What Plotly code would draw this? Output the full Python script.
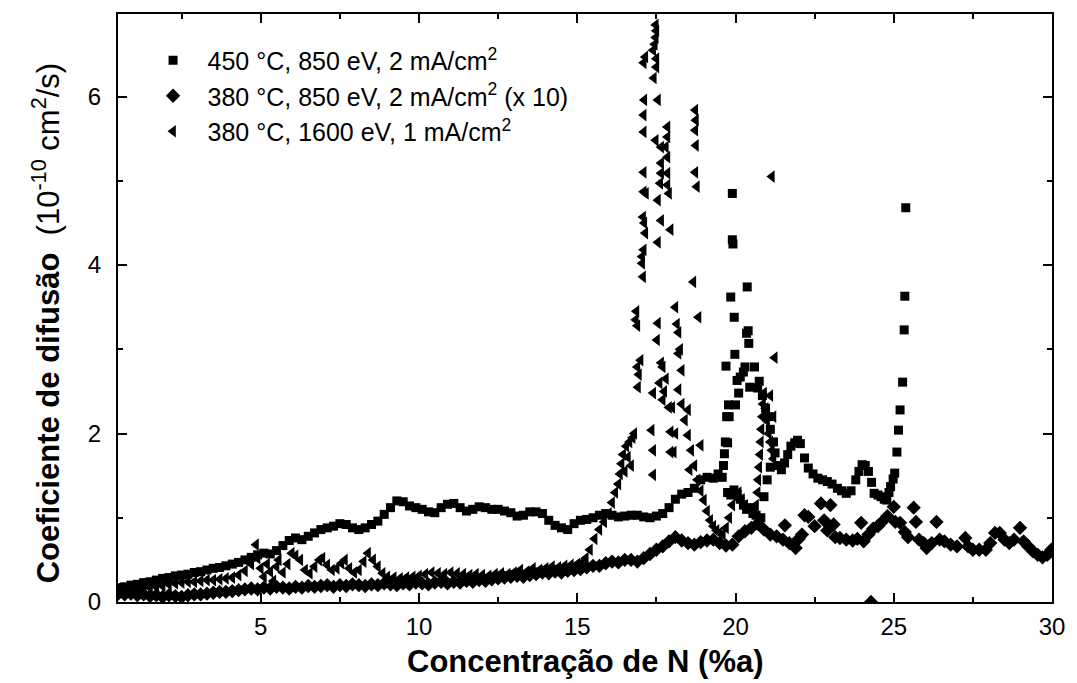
import plotly.graph_objects as go

# ---------------- data ----------------
# 450 °C, 850 eV, 2 mA/cm2  (squares)
sq_x = [0.5, 0.7, 0.9, 1.1, 1.3, 1.5, 1.7, 1.9, 2.1, 2.3, 2.5, 2.7, 2.9, 3.1, 3.3, 3.5, 3.7, 3.9,
        4.1, 4.3, 4.5, 4.7, 4.9, 5.1, 5.3, 5.5, 5.7, 5.9, 6.1, 6.3, 6.5, 6.7, 6.9, 7.1, 7.3, 7.5,
        7.7, 7.9, 8.1, 8.3, 8.5, 8.7, 8.9, 9.1, 9.3, 9.5, 9.7, 9.9, 10.1, 10.3, 10.5, 10.7, 10.9,
        11.1, 11.3, 11.5, 11.7, 11.9, 12.1, 12.3, 12.5, 12.7, 12.9, 13.1, 13.3, 13.5, 13.7, 13.9,
        14.1, 14.3, 14.5, 14.7, 14.9, 15.1, 15.3, 15.5, 15.7, 15.9, 16.1, 16.3, 16.5, 16.7, 16.9,
        17.1, 17.3, 17.5, 17.7, 17.9, 18.1, 18.3, 18.5, 18.7, 18.9, 19.1, 19.3,
        19.45, 19.58, 19.62, 19.65, 19.68, 19.72, 19.70, 19.78, 19.80, 19.75, 19.85, 19.90, 19.90,
        19.92, 19.96, 19.98, 20.05, 20.15, 20.25, 20.37, 20.35, 20.40, 20.42, 20.10, 20.00, 20.30,
        20.45, 20.60, 20.70, 20.75, 20.85, 20.95, 21.05, 21.10, 21.20, 21.25, 21.35, 21.45, 21.55,
        21.65, 21.75, 21.87, 21.96, 22.05, 22.18, 22.30, 22.45, 22.60, 22.75, 22.90, 23.05, 23.22,
        23.35, 23.50, 23.65, 23.80, 23.90, 24.00, 24.10, 24.20, 24.30, 24.38, 24.50, 24.60, 24.70,
        24.78, 24.85, 24.90, 24.98, 25.03, 25.10, 25.15, 25.20, 25.28, 25.33, 25.35, 25.38,
        19.75, 19.85, 19.95, 20.05, 20.15, 20.25, 20.35, 20.45, 20.55, 20.65, 20.80, 20.90, 21.00,
        21.10]
sq_y = [0.17, 0.18, 0.20, 0.21, 0.23, 0.24, 0.26, 0.28, 0.29, 0.31, 0.32, 0.33, 0.35, 0.36, 0.38, 0.40, 0.41, 0.43,
        0.45, 0.47, 0.50, 0.53, 0.56, 0.58, 0.57, 0.61, 0.67, 0.73, 0.76, 0.74, 0.78, 0.82, 0.86, 0.88, 0.90, 0.93,
        0.92, 0.88, 0.86, 0.88, 0.92, 0.96, 1.04, 1.12, 1.20, 1.19, 1.14, 1.12, 1.10, 1.07, 1.06, 1.12, 1.16,
        1.17, 1.12, 1.08, 1.10, 1.13, 1.12, 1.10, 1.10, 1.08, 1.06, 1.02, 1.03, 1.07, 1.07, 1.05,
        0.97, 0.91, 0.88, 0.86, 0.93, 0.97, 0.98, 1.00, 1.03, 1.05, 1.03, 1.01, 1.02, 1.03, 1.03,
        1.01, 1.00, 1.02, 1.05, 1.12, 1.22, 1.28, 1.30, 1.35, 1.45, 1.48, 1.47,
        1.52, 1.48, 1.62, 1.76, 1.90, 2.20, 2.80, 2.34, 2.20, 1.89, 3.62, 4.85, 4.30,
        4.25, 3.38, 2.94, 2.63, 2.67, 2.73, 3.74, 3.19, 3.22, 3.07, 2.48, 2.34, 2.79,
        2.55, 2.79, 2.54, 2.62, 2.45, 2.30, 2.20, 2.05, 1.90, 1.77, 1.62, 1.57, 1.65,
        1.75, 1.85, 1.89, 1.92, 1.88, 1.71, 1.59, 1.52, 1.47, 1.45, 1.43, 1.40, 1.35,
        1.32, 1.29, 1.32, 1.45, 1.55, 1.63, 1.62, 1.55, 1.42, 1.29, 1.27, 1.25, 1.22,
        1.21, 1.30, 1.37, 1.46, 1.53, 1.78, 2.04, 2.28, 2.61, 3.23, 3.63, 4.68,
        1.30, 1.27, 1.33, 1.28, 1.22, 1.15, 1.10, 1.12, 1.05, 1.03, 1.00, 1.25, 1.45,
        1.60]

# 380 °C, 850 eV, 2 mA/cm2 (x 10)  (diamonds)
di_x = [0.5, 0.7, 0.9, 1.1, 1.3, 1.5, 1.7, 1.9, 2.1, 2.3, 2.5, 2.7, 2.9, 3.1, 3.3, 3.5, 3.7, 3.9,
        4.1, 4.3, 4.5, 4.7, 4.9, 5.1, 5.3, 5.5, 5.7, 5.9, 6.1, 6.3, 6.5, 6.7, 6.9, 7.1, 7.3, 7.5,
        7.7, 7.9, 8.1, 8.3, 8.5, 8.7, 8.9, 9.1, 9.3, 9.5, 9.7, 9.9, 10.1, 10.3, 10.5, 10.7, 10.9,
        11.1, 11.3, 11.5, 11.7, 11.9, 12.1, 12.3, 12.5, 12.7, 12.9, 13.1, 13.3, 13.5, 13.7, 13.9,
        14.1, 14.3, 14.5, 14.7, 14.9, 15.1, 15.3, 15.5, 15.7, 15.9, 16.1, 16.3, 16.5, 16.7, 16.9,
        17.1, 17.3, 17.5, 17.7, 17.9, 18.1, 18.3, 18.5, 18.7, 18.9, 19.1, 19.3, 19.5, 19.7, 19.9,
        20.1, 20.3, 20.5, 20.7, 20.9, 21.1, 21.3, 21.5, 21.56, 21.7, 21.9, 22.0, 22.18, 22.3, 22.1,
        22.5, 22.7, 22.8, 22.9, 23.0, 23.1, 23.15, 23.3, 23.5, 23.7, 23.85, 23.97, 24.05, 24.2,
        24.35, 24.5, 24.6, 24.8, 25.0, 25.05, 25.2, 25.35, 25.45, 25.63, 25.7, 25.8, 25.95, 26.04,
        26.2, 26.35, 26.45, 26.6, 26.8, 27.0, 27.26, 27.35, 27.5, 27.7, 27.91, 28.05, 28.2, 28.35,
        28.5, 28.65, 28.8, 28.99, 29.1, 29.25, 29.4, 29.55, 29.7, 29.85, 29.98, 24.28]
di_y = [0.10, 0.09, 0.10, 0.08, 0.09, 0.07, 0.08, 0.06, 0.08, 0.07, 0.06, 0.08, 0.09, 0.09, 0.10, 0.11, 0.12, 0.12,
        0.13, 0.14, 0.15, 0.16, 0.15, 0.17, 0.16, 0.18, 0.17, 0.16, 0.18, 0.17, 0.19, 0.18, 0.19, 0.20, 0.18, 0.20,
        0.19, 0.21, 0.20, 0.19, 0.21, 0.20, 0.22, 0.21, 0.20, 0.22, 0.21, 0.23, 0.22, 0.21, 0.23, 0.24, 0.22,
        0.24, 0.23, 0.25, 0.24, 0.26, 0.25, 0.27, 0.28, 0.29, 0.30, 0.31, 0.30, 0.32, 0.33, 0.35,
        0.34, 0.36, 0.35, 0.37, 0.38, 0.39, 0.41, 0.43, 0.43, 0.46, 0.48, 0.47, 0.50, 0.50, 0.48,
        0.52, 0.57, 0.62, 0.66, 0.72, 0.77, 0.73, 0.70, 0.68, 0.71, 0.73, 0.74, 0.70, 0.67, 0.68,
        0.78, 0.84, 0.88, 0.93, 0.86, 0.80, 0.78, 0.74, 0.91, 0.70, 0.64, 0.75, 1.03, 1.01, 0.80,
        0.90, 1.17, 0.97, 0.85, 1.15, 0.92, 0.77, 0.76, 0.74, 0.73, 0.75, 0.94, 0.72, 0.80,
        0.87, 0.90, 0.94, 1.02, 1.13, 0.95, 0.94, 0.83, 0.77, 1.12, 0.95, 0.74, 0.70, 0.64,
        0.70, 0.95, 0.74, 0.72, 0.68, 0.66, 0.76, 0.66, 0.62, 0.62, 0.62, 0.70, 0.82, 0.82,
        0.74, 0.70, 0.74, 0.88, 0.72, 0.66, 0.60, 0.56, 0.53, 0.56, 0.62, 0.00]

# 380 °C, 1600 eV, 1 mA/cm2  (left triangles)
tr_x = [0.5, 0.7, 0.9, 1.1, 1.3, 1.5, 1.7, 1.9, 2.1, 2.3, 2.5, 2.7, 2.9, 3.1, 3.3, 3.5, 3.7, 3.9,
        4.1, 4.3, 4.5, 4.7, 4.85, 4.9, 5.0, 5.1, 5.2, 5.3, 5.4, 5.5, 5.57, 5.7, 5.85, 5.98, 6.1,
        6.25, 6.4, 6.55, 6.7, 6.85, 6.95, 7.1, 7.25, 7.4, 7.55, 7.66, 7.8, 7.95, 8.1, 8.25, 8.39,
        8.55, 8.7, 8.85, 9.0, 9.2, 9.4, 9.6, 9.8, 10.0, 10.2, 10.4, 10.6, 10.8, 11.0, 11.2, 11.4,
        11.6, 11.8, 12.0, 12.2, 12.4, 12.6, 12.8, 13.0, 13.2, 13.4, 13.6, 13.8, 14.0, 14.2, 14.4,
        14.6, 14.8, 15.0, 15.15, 15.27, 15.4, 15.55, 15.7, 15.85, 16.0, 16.1, 16.2, 16.3, 16.35,
        16.4, 16.45, 16.5, 16.55, 16.6, 16.65, 16.7, 16.75, 16.8,
        16.85, 16.87, 16.9, 16.9, 16.92, 16.95, 17.0, 17.05, 17.05, 17.08, 17.1, 17.08, 17.12,
        17.15, 17.1, 17.17, 17.1, 17.1, 17.1, 17.12, 17.1, 17.15,
        17.40, 17.45, 17.48, 17.50, 17.48, 17.50, 17.42, 17.50, 17.55, 17.48, 17.65, 17.65, 17.65,
        17.62, 17.55, 17.65, 17.55, 17.55, 17.52, 17.40, 17.35, 17.40, 17.40,
        17.85, 17.85, 17.80, 17.85, 17.85, 17.85, 17.90, 17.95, 18.10, 18.15, 18.20, 18.25, 18.20,
        17.90, 17.95, 17.95, 17.70, 17.65, 17.60, 17.70, 17.75, 17.80, 18.00, 18.30, 18.10, 18.05,
        18.50, 18.55, 18.90,
        18.73, 18.75, 18.73, 18.75, 18.73, 18.78, 18.67, 18.83,
        18.2, 18.3, 18.4, 18.5, 18.6, 18.7, 18.8, 18.9, 19.0, 19.1, 19.2, 19.3, 19.4, 19.5, 19.6,
        19.7, 19.8, 19.9, 20.0, 20.1, 20.2, 20.3, 20.4, 20.5, 20.6, 20.65, 20.7, 20.72, 20.75,
        20.78, 20.8, 20.82, 20.85, 20.87, 20.9, 20.95, 21.0, 21.05, 21.1, 21.15, 21.2, 21.24,
        21.1, 21.2, 21.15]
tr_y = [0.12, 0.14, 0.15, 0.16, 0.15, 0.17, 0.18, 0.19, 0.21, 0.22, 0.23, 0.24, 0.24, 0.25, 0.26, 0.26, 0.27, 0.28,
        0.29, 0.32, 0.37, 0.45, 0.68, 0.52, 0.40, 0.30, 0.45, 0.36, 0.25, 0.42, 0.50, 0.35, 0.45, 0.58, 0.55,
        0.50, 0.38, 0.34, 0.42, 0.50, 0.52, 0.44, 0.38, 0.40, 0.46, 0.50, 0.40, 0.35, 0.38, 0.48, 0.58,
        0.50, 0.42, 0.34, 0.30, 0.29, 0.28, 0.29, 0.30, 0.31, 0.33, 0.35, 0.34, 0.33, 0.35, 0.34, 0.33,
        0.32, 0.33, 0.32, 0.31, 0.33, 0.34, 0.33, 0.35, 0.38, 0.36, 0.40, 0.38, 0.40, 0.42, 0.41,
        0.43, 0.44, 0.45, 0.47, 0.52, 0.62, 0.75, 0.86, 0.95, 1.05, 1.18, 1.30, 1.40, 1.52,
        1.64, 1.75, 1.55, 1.85, 1.72, 1.90, 1.62, 1.95, 2.00,
        3.35, 3.45, 3.28, 2.79, 2.55, 2.70, 2.87, 4.02, 4.10, 3.86, 4.18, 4.57, 4.50,
        4.38, 4.87, 4.85, 5.10, 5.78, 5.58, 5.96, 6.40, 6.47,
        6.55, 6.62, 6.70, 6.78, 6.85, 6.45, 6.22, 6.35, 5.96, 5.48, 5.40, 5.21, 5.09,
        4.97, 4.77, 4.53, 4.27, 3.31, 3.11, 2.48, 2.04, 1.80, 1.51,
        5.64, 5.52, 5.40, 5.28, 5.09, 4.95, 4.85, 4.42, 3.50, 3.30, 3.20, 3.00, 2.95,
        2.31, 2.02, 1.78, 2.79, 2.84, 2.60, 2.40, 2.50, 2.65, 2.31, 2.75, 2.00, 1.78,
        2.28, 1.57, 1.86,
        5.84, 5.72, 5.60, 5.42, 5.10, 4.93, 3.80, 3.38,
        2.52, 2.35, 2.16, 1.98, 1.80, 1.62, 1.45, 1.32, 1.21, 1.08, 0.97, 0.90, 0.85, 0.82, 0.80,
        0.88, 1.00, 1.15, 1.25, 1.30, 1.22, 1.15, 1.10, 1.08, 1.10, 1.15, 1.30, 1.45, 1.60,
        1.75, 1.90, 2.05, 2.20, 2.35, 2.48, 2.30, 2.15, 2.00, 1.90, 1.80, 1.70, 2.90,
        2.45, 2.20, 5.05]

names = ["450 °C, 850 eV, 2 mA/cm<sup>2</sup>",
         "380 °C, 850 eV, 2 mA/cm<sup>2</sup> (x 10)",
         "380 °C, 1600 eV, 1 mA/cm<sup>2</sup>"]

x_ticks = [5, 10, 15, 20, 25, 30]
y_ticks = [0, 2, 4, 6]

FONT = "Liberation Sans, Arial, Helvetica, sans-serif"

fig = go.Figure()
fig.add_trace(go.Scatter(x=sq_x, y=sq_y, mode="markers", name=names[0], legendgroup="a",
                         marker=dict(symbol="square", size=9, color="black")))
fig.add_trace(go.Scatter(x=di_x, y=di_y, mode="markers", name=names[1], legendgroup="b",
                         marker=dict(symbol="diamond", size=11, color="black")))
fig.add_trace(go.Scatter(x=tr_x, y=tr_y, mode="markers", name=names[2], legendgroup="c",
                         marker=dict(symbol="triangle-left", size=11, color="black")))

axis_common = dict(showline=True, linecolor="black", linewidth=2, mirror="allticks",
                   ticks="inside", ticklen=9, tickwidth=1.5, tickcolor="black",
                   showgrid=False, zeroline=False,
                   tickfont=dict(family=FONT, size=24, color="black"))

fig.update_xaxes(range=[0.49, 30.0], tickvals=x_ticks,
                 minor=dict(dtick=2.5, tick0=0, ticks="inside", ticklen=5, tickcolor="black", tickwidth=1.5),
                 ticklabelstandoff=2,
                 **axis_common)
fig.update_yaxes(range=[0, 6.98], tickvals=y_ticks,
                 minor=dict(dtick=1, tick0=0, ticks="inside", ticklen=5, tickcolor="black", tickwidth=1.5),
                 ticklabelstandoff=10,
                 **axis_common)

# axis titles
fig.add_annotation(xref="paper", yref="paper", x=0.5, y=-0.1005,
                   xanchor="center", yanchor="middle", showarrow=False,
                   text="<b>Concentração de N (%a)</b>",
                   font=dict(family=FONT, size=31, color="black"))
fig.add_annotation(xref="paper", yref="paper", x=-0.077, y=0.474, textangle=-90,
                   xanchor="center", yanchor="middle", showarrow=False,
                   text="<b>Coeficiente de difusão</b>  (10<sup>-10</sup> cm<sup>2</sup>/s)",
                   font=dict(family=FONT, size=31, color="black"))

fig.update_layout(
    width=1077, height=683,
    margin=dict(l=118, r=17, t=14, b=81),
    plot_bgcolor="white", paper_bgcolor="white",
    showlegend=True,
    legend=dict(x=0.022, y=0.96, xanchor="left", yanchor="top",
                bgcolor="rgba(0,0,0,0)", borderwidth=0,
                font=dict(family=FONT, size=25, color="black"),
                tracegroupgap=0, itemwidth=59),
)

fig.write_html("out.html")
